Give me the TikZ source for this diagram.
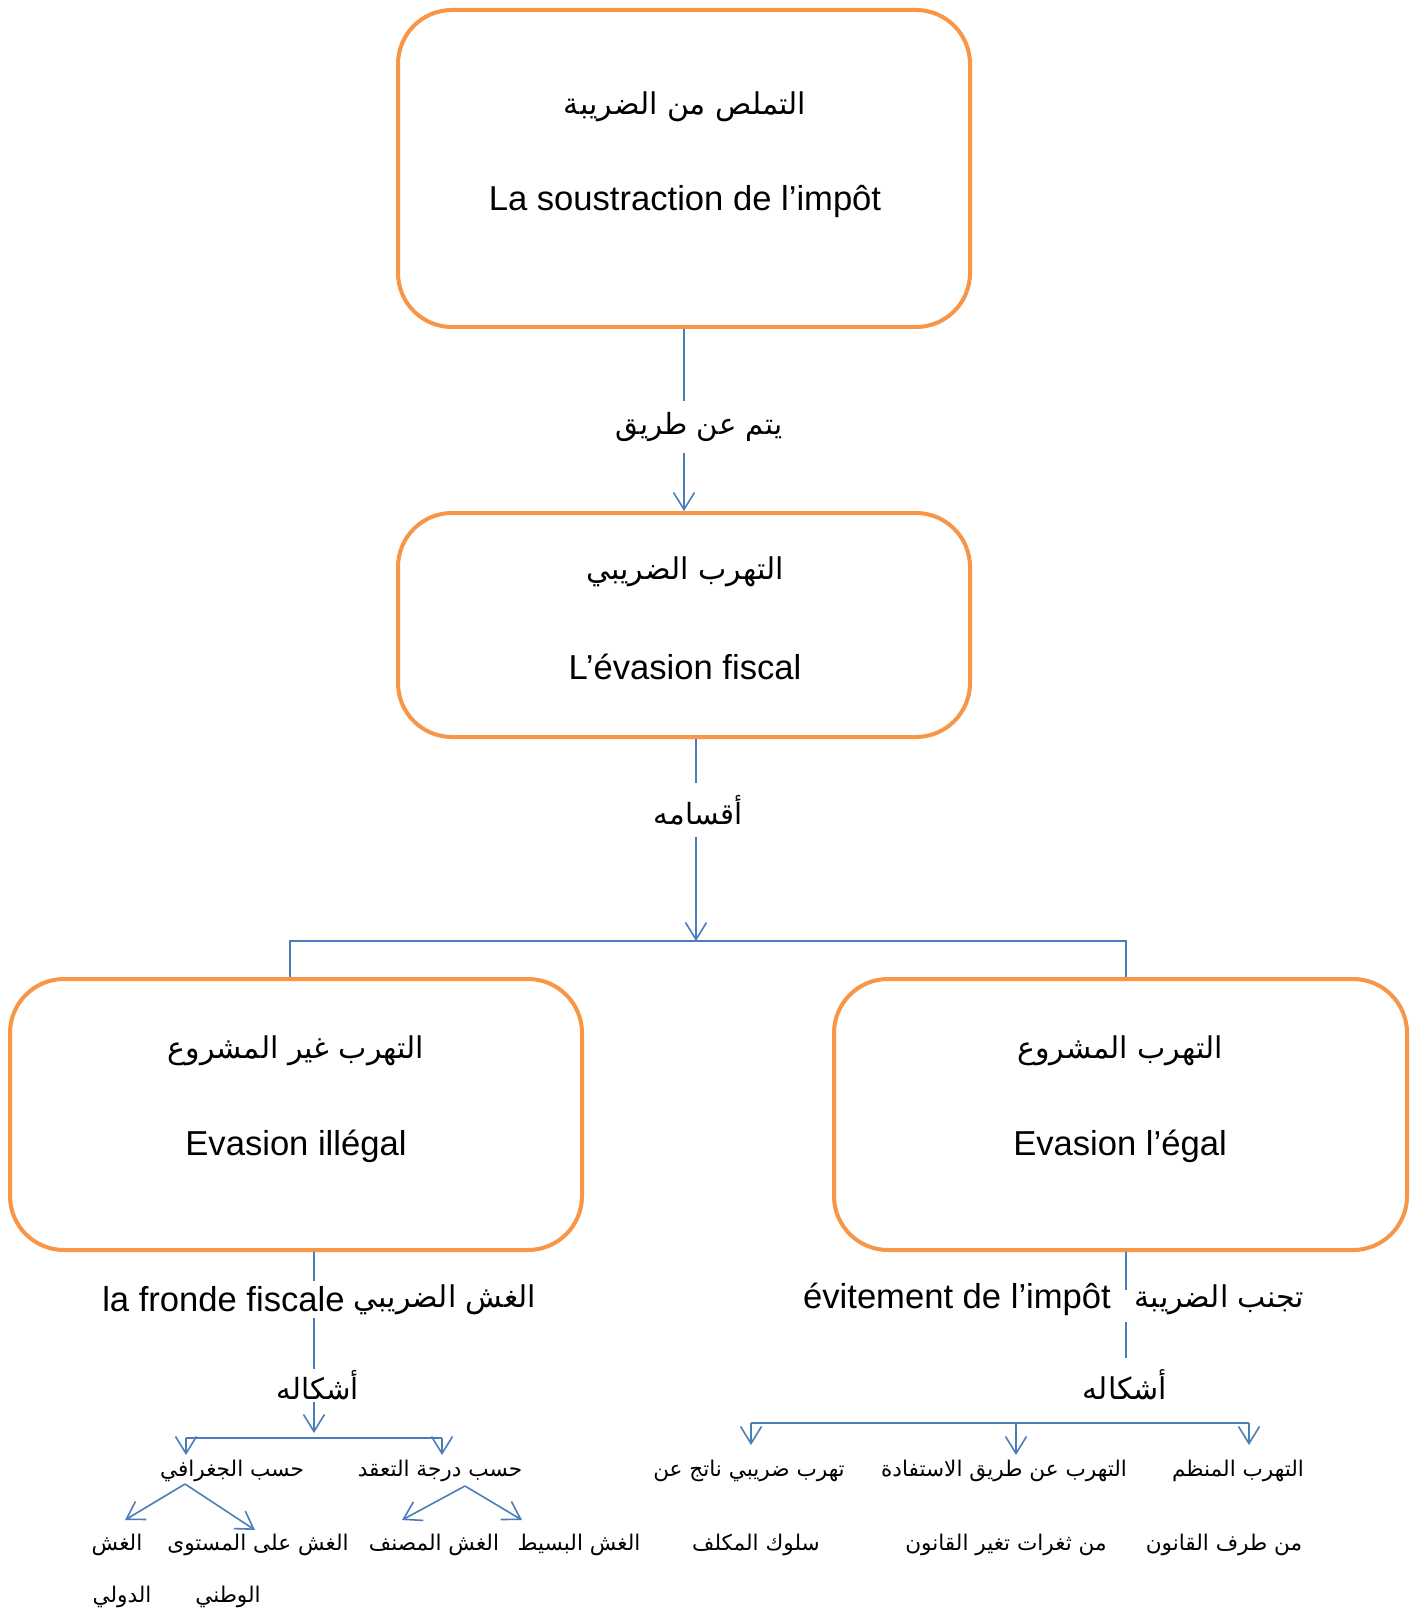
\documentclass[tikz,border=0pt]{standalone}
\usepackage{fontspec}
\setmainfont{Liberation Sans}
\newfontfamily\arfont[Script=Arabic]{DejaVu Sans}
\TeXXeTstate=1
\usetikzlibrary{arrows.meta}
\definecolor{borange}{HTML}{F79646}
\definecolor{lblue}{HTML}{4A7EBB}
\begin{document}
\begin{tikzpicture}[x=0.5pt,y=-0.5pt,
  bigbox/.style={draw=borange,line width=2pt,rounded corners=27pt,minimum width=286pt,inner sep=0pt},
  conn/.style={draw=lblue,line width=0.8pt},
  arr/.style={conn,-{Straight Barb[length=8.5pt,width=10.5pt,line width=0.8pt]}},
  bigar/.style={font=\fontsize{15}{18}\selectfont\arfont,inner sep=0pt},
  bigfr/.style={font=\fontsize{17.3}{20}\selectfont,inner sep=0pt},
  smallar/.style={font=\fontsize{10.8}{13}\selectfont\arfont,inner sep=0pt},
  lab/.style={font=\fontsize{14.6}{18}\selectfont\arfont,fill=white,inner xsep=2pt}
]
\useasboundingbox[fill=white] (0,0) rectangle (1419,1610);

% boxes
\node[bigbox,minimum height=158.5pt] (b1) at (684,168.5) {};
\node[bigbox,minimum height=112pt] (b2) at (684,625) {};
\node[bigbox,minimum height=135.5pt] (b3) at (296,1114.5) {};
\node[bigbox,minimum width=286.5pt,minimum height=135.5pt] (b4) at (1120.5,1114.5) {};

% box texts
\node[bigar] (t1a) at (685,107) {\beginR التملص من الضريبة\endR};
\node[bigfr] (t1b) at (685,201) {La soustraction de l’impôt};
\node[bigar] (t2a) at (685,572) {\beginR التهرب الضريبي\endR};
\node[bigfr] (t2b) at (685,667) {L’évasion fiscal};
\node[bigar] (t3a) at (296,1051) {\beginR التهرب غير المشروع\endR};
\node[bigfr] (t3b) at (296,1146) {Evasion illégal};
\node[bigar] (t4a) at (1120,1051) {\beginR التهرب المشروع\endR};
\node[bigfr] (t4b) at (1120,1146) {Evasion l’égal};

% connector 1
\draw[arr] (b1.south) -- (b2.north);
\node[lab,minimum height=26pt] (l1) at (699,427) {\beginR يتم عن طريق\endR};

% connector 2
\coordinate (hub) at (696,941);
\coordinate (hl) at (290,941);
\coordinate (hr) at (1126,941);
\draw[arr] (b2.south -| hub) -- (hub);
\node[lab,minimum height=27pt] (l2) at (698,810) {\beginR أقسامه\endR};
\draw[conn] (b3.north -| hl) -- (hl) -- (hr) -- (b4.north -| hr);

% left branch
\coordinate (c3) at (314,1433);
\draw[arr] (b3.south -| c3) -- (c3);
\node[bigfr,anchor=east,fill=white,minimum height=18.5pt,inner xsep=0pt] (f3) at (345,1299) {la fronde fiscale};
\node[bigar] (a3) at (445,1300) {\beginR الغش الضريبي\endR};
\node[lab,minimum height=16.5pt,inner ysep=0pt] (s3) at (318,1385) {\beginR أشكاله\endR};

\coordinate (L1) at (186,1438);
\coordinate (L2) at (442,1438);
\coordinate (L1b) at (186,1455);
\coordinate (L2b) at (442,1455);
\draw[conn] (L1) -- (L2);
\draw[arr] (L1) -- (L1b);
\draw[arr] (L2) -- (L2b);
\node[smallar] (g1) at (232,1471) {\beginR حسب الجغرافي\endR};
\node[smallar] (g2) at (440,1471) {\beginR حسب درجة التعقد\endR};

\coordinate (d1) at (185,1484);
\coordinate (d1a) at (125,1520);
\coordinate (d1b) at (255,1530);
\coordinate (d2) at (465,1486);
\coordinate (d2a) at (402,1520);
\coordinate (d2b) at (522,1520);
\draw[arr] (d1) -- (d1a);
\draw[arr] (d1) -- (d1b);
\draw[arr] (d2) -- (d2a);
\draw[arr] (d2) -- (d2b);

\node[smallar] (e1) at (117,1545) {\beginR الغش\endR};
\node[smallar] (e2) at (258,1545) {\beginR الغش على المستوى\endR};
\node[smallar] (e3) at (434,1545) {\beginR الغش المصنف\endR};
\node[smallar] (e4) at (579,1545) {\beginR الغش البسيط\endR};
\node[smallar] (e5) at (122,1597) {\beginR الدولي\endR};
\node[smallar] (e6) at (228,1597) {\beginR الوطني\endR};

% right branch
\coordinate (r1) at (1126,1290);
\coordinate (r2) at (1126,1322);
\coordinate (r3) at (1126,1358);
\draw[conn] (b4.south -| r1) -- (r1);
\draw[conn] (r2) -- (r3);
\node[bigfr] (f4) at (957,1299) {évitement de l’impôt};
\node[bigar] (a4) at (1219.5,1300) {\beginR تجنب الضريبة\endR};
\node[bigar] (s4) at (1125,1385) {\beginR أشكاله\endR};

\coordinate (R1) at (751,1423);
\coordinate (R2) at (1016,1423);
\coordinate (R3) at (1249,1423);
\coordinate (R1b) at (751,1445);
\coordinate (R2b) at (1016,1455);
\coordinate (R3b) at (1249,1445);
\draw[conn] (R1) -- (R3);
\draw[arr] (R1) -- (R1b);
\draw[arr] (R2) -- (R2b);
\draw[arr] (R3) -- (R3b);

\node[smallar] (h1) at (749,1471) {\beginR تهرب ضريبي ناتج عن\endR};
\node[smallar] (h2) at (1004,1471) {\beginR التهرب عن طريق الاستفادة\endR};
\node[smallar] (h3) at (1238,1471) {\beginR التهرب المنظم\endR};
\node[smallar] (k1) at (756,1545) {\beginR سلوك المكلف\endR};
\node[smallar] (k2) at (1006,1545) {\beginR من ثغرات تغير القانون\endR};
\node[smallar] (k3) at (1224,1545) {\beginR من طرف القانون\endR};
\end{tikzpicture}
\end{document}
